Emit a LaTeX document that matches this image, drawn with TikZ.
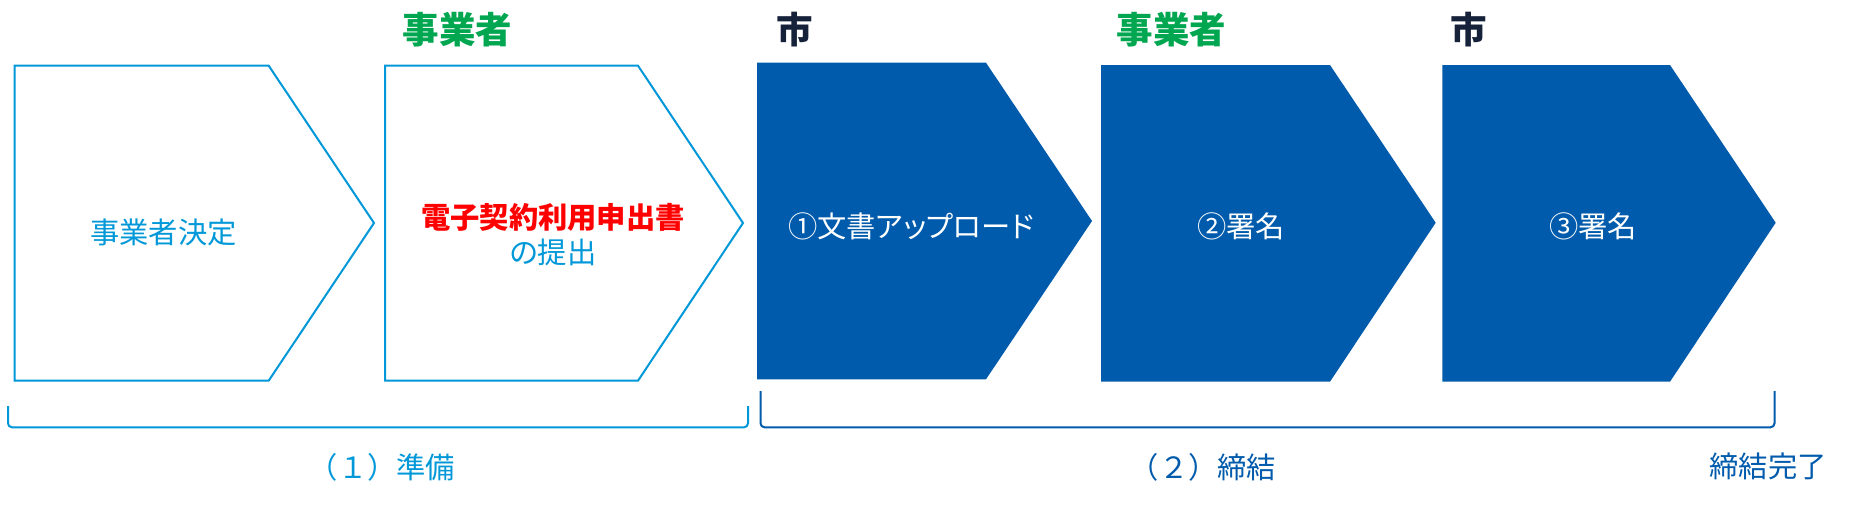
\documentclass[tikz,border=0pt]{standalone}
\usepackage{fontspec}
\newfontfamily\jp[RawFeature=+palt]{Noto Sans CJK JP}
\newfontfamily\jpfw{Noto Sans CJK JP}
\definecolor{lblue}{RGB}{0,152,216}
\definecolor{dblue}{RGB}{0,91,172}
\definecolor{jgreen}{RGB}{0,166,80}
\definecolor{navy}{RGB}{22,33,58}
\definecolor{jred}{RGB}{255,0,0}
\tikzset{
  lbl/.style={inner sep=0pt, anchor=base, font=\jp\fontsize{29.3}{35}\selectfont},
  phaselbl/.style={inner sep=0pt, anchor=base, font=\jpfw\fontsize{29.3}{35}\selectfont},
  boldlbl/.style={inner sep=0pt, anchor=base, font=\jp\bfseries\fontsize{29.3}{35}\selectfont},
  role/.style={inner sep=0pt, anchor=base, font=\jp\bfseries\fontsize{36.5}{40}\selectfont},
  outlinebox/.style={draw=lblue, line width=2pt, fill=white, line join=miter},
  filledbox/.style={fill=dblue, draw=none},
  bracket/.style={line width=2pt, rounded corners=4pt},
}
\begin{document}
\begin{tikzpicture}[x=1pt,y=-1pt]
\useasboundingbox[fill=white] (0,0) rectangle (1855,506);

% chevron shapes
\draw[outlinebox] (14.7,65.7) -- (268.7,65.7) -- (374,223) -- (268.7,380.7) -- (14.7,380.7) -- cycle;
\draw[outlinebox] (385,65.7) -- (638,65.7) -- (743,223) -- (638,380.7) -- (385,380.7) -- cycle;
\fill[filledbox] (757,62.7) -- (986,62.7) -- (1092,221) -- (986,379.3) -- (757,379.3) -- cycle;
\fill[filledbox] (1101,65) -- (1330,65) -- (1435.7,222.7) -- (1330,381.7) -- (1101,381.7) -- cycle;
\fill[filledbox] (1442.3,65) -- (1670,65) -- (1775.7,222.7) -- (1670,381.7) -- (1442.3,381.7) -- cycle;

% role labels
\node[role, text=jgreen] (role2) at (457.5,43.9) {事業者};
\node[role, text=navy] (role3) at (795,43.9) {市};
\node[role, text=jgreen] (role4) at (1171.7,43.9) {事業者};
\node[role, text=navy] (role5) at (1469,43.9) {市};

% step texts
\node[lbl, text=lblue] (step1) at (163.5,243.1) {事業者決定};
\node[boldlbl, text=jred] (step2a) at (553,228.1) {電子契約利用申出書};
\node[lbl, text=lblue] (step2b) at (553,263.1) {の提出};
\node[lbl, text=white] (step3) at (911,237.1) {①文書アップロード};
\node[lbl, text=white] (step4) at (1241,237.6) {②署名};
\node[lbl, text=white] (step5) at (1593,237.6) {③署名};

% brackets
\coordinate (b1a) at (8,406);
\coordinate (b1b) at (748,406);
\coordinate (b2a) at (760.5,391);
\coordinate (b2b) at (1774.5,391);
\draw[bracket, draw=lblue] (b1a) |- (378,427.3) -| (b1b);
\draw[bracket, draw=dblue] (b2a) |- (1267,427.3) -| (b2b);

% phase labels
\node[phaselbl, text=lblue] (phase1) at (382,478.1) {（１）準備};
\node[phaselbl, text=dblue] (phase2) at (1203,478.1) {（２）締結};
\node[lbl, text=dblue] (done) at (1768,477.1) {締結完了};
\end{tikzpicture}
\end{document}
